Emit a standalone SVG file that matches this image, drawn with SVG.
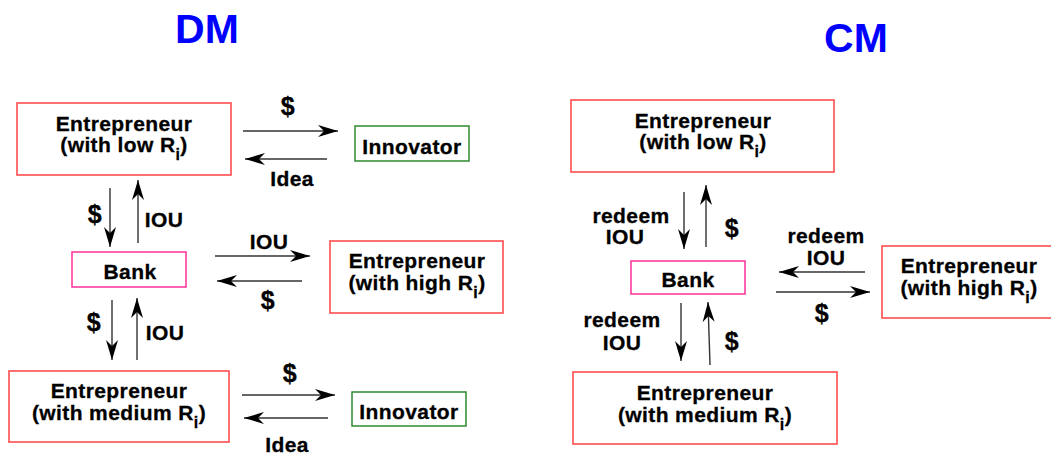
<svg xmlns="http://www.w3.org/2000/svg" width="1051" height="458" viewBox="0 0 1051 458">
<style>
.t{font-family:"Liberation Sans",Arial,sans-serif;font-weight:bold;font-size:21px;letter-spacing:0.4px;fill:#000;text-anchor:middle;stroke:#000;stroke-width:0.3}
.d{font-size:25px}
.title{font-family:"Liberation Sans",Arial,sans-serif;font-weight:bold;font-size:41px;fill:#0000ff;text-anchor:middle}
.sub{font-size:16px}
.ent{fill:#fff;stroke:#ff4d4d;stroke-width:1.6}
.inn{fill:#fff;stroke:#2e8b2e;stroke-width:1.5}
.bank{fill:#fff;stroke:#ff2e9a;stroke-width:1.5}
.c line{stroke:#333;stroke-width:1.4;marker-end:url(#ah)}
</style>
<defs>
<marker id="ah" markerUnits="userSpaceOnUse" markerWidth="20" markerHeight="14" viewBox="0 0 20 14" refX="20" refY="7" orient="auto">
<path d="M0,1 L20,7 L0,13 L6,7 z" fill="#000"/>
</marker>
</defs>
<text class="title" x="207" y="43">DM</text>
<text class="title" x="856" y="52">CM</text>

<g id="dm-ent-low"><rect class="ent" x="17" y="103" width="214" height="72"/>
<text class="t" x="124" y="131">Entrepreneur</text>
<text class="t" x="124" y="152">(with low R<tspan class="sub" dy="8">i</tspan><tspan dy="-8">)</tspan></text></g>
<g id="dm-innov-1"><rect class="inn" x="355" y="126" width="114" height="35"/>
<text class="t" x="412" y="154">Innovator</text></g>
<g id="dm-bank"><rect class="bank" x="72" y="252" width="114" height="35"/>
<text class="t" x="130" y="279">Bank</text></g>
<g id="dm-ent-high"><rect class="ent" x="330" y="241" width="173" height="72"/>
<text class="t" x="417" y="268">Entrepreneur</text>
<text class="t" x="417" y="290">(with high R<tspan class="sub" dy="8">i</tspan><tspan dy="-8">)</tspan></text></g>
<g id="dm-ent-med"><rect class="ent" x="9" y="371" width="220" height="71"/>
<text class="t" x="119" y="398">Entrepreneur</text>
<text class="t" x="119" y="420">(with medium R<tspan class="sub" dy="8">i</tspan><tspan dy="-8">)</tspan></text></g>
<g id="dm-innov-2"><rect class="inn" x="352" y="392" width="114" height="34"/>
<text class="t" x="409" y="419">Innovator</text></g>

<g id="cm-ent-low"><rect class="ent" x="571" y="100" width="263" height="72"/>
<text class="t" x="703" y="128">Entrepreneur</text>
<text class="t" x="703" y="149">(with low R<tspan class="sub" dy="8">i</tspan><tspan dy="-8">)</tspan></text></g>
<g id="cm-bank"><rect class="bank" x="631" y="261" width="114" height="33"/>
<text class="t" x="688" y="287">Bank</text></g>
<g id="cm-ent-high"><rect class="ent" x="882" y="246" width="180" height="72"/>
<text class="t" x="969" y="273">Entrepreneur</text>
<text class="t" x="969" y="295">(with high R<tspan class="sub" dy="8">i</tspan><tspan dy="-8">)</tspan></text></g>
<g id="cm-ent-med"><rect class="ent" x="573" y="372" width="264" height="72"/>
<text class="t" x="705" y="400">Entrepreneur</text>
<text class="t" x="705" y="422">(with medium R<tspan class="sub" dy="8">i</tspan><tspan dy="-8">)</tspan></text></g>

<g id="connectors" class="c">
<line x1="243" y1="131" x2="338" y2="131"/>
<line x1="327" y1="159" x2="245" y2="159"/>
<line x1="110" y1="188" x2="110" y2="247"/>
<line x1="138" y1="243" x2="138" y2="180"/>
<line x1="215" y1="256" x2="310" y2="256"/>
<line x1="302" y1="281" x2="217" y2="281"/>
<line x1="112" y1="300" x2="112" y2="360"/>
<line x1="137" y1="360" x2="137" y2="298"/>
<line x1="242" y1="395" x2="335" y2="395"/>
<line x1="328" y1="418" x2="244" y2="418"/>
<line x1="684" y1="192" x2="684" y2="249"/>
<line x1="706" y1="247" x2="706" y2="185"/>
<line x1="865" y1="272" x2="779" y2="272"/>
<line x1="776" y1="292" x2="870" y2="292"/>
<line x1="681" y1="303" x2="681" y2="361"/>
<line x1="710" y1="365" x2="708" y2="302"/>
</g>

<g id="labels">
<text class="t d" x="288" y="115">$</text>
<text class="t" x="292" y="186">Idea</text>
<text class="t d" x="95" y="223">$</text>
<text class="t" x="164" y="227">IOU</text>
<text class="t" x="269" y="249">IOU</text>
<text class="t d" x="268" y="309">$</text>
<text class="t d" x="94" y="331">$</text>
<text class="t" x="165" y="340">IOU</text>
<text class="t d" x="290" y="382">$</text>
<text class="t" x="287" y="452">Idea</text>
<text class="t" x="631" y="223">redeem</text>
<text class="t" x="625" y="244">IOU</text>
<text class="t d" x="732" y="237">$</text>
<text class="t" x="826" y="243">redeem</text>
<text class="t" x="826" y="265">IOU</text>
<text class="t d" x="822" y="322">$</text>
<text class="t" x="622" y="327">redeem</text>
<text class="t" x="622" y="350">IOU</text>
<text class="t d" x="732" y="350">$</text>
</g>
</svg>
